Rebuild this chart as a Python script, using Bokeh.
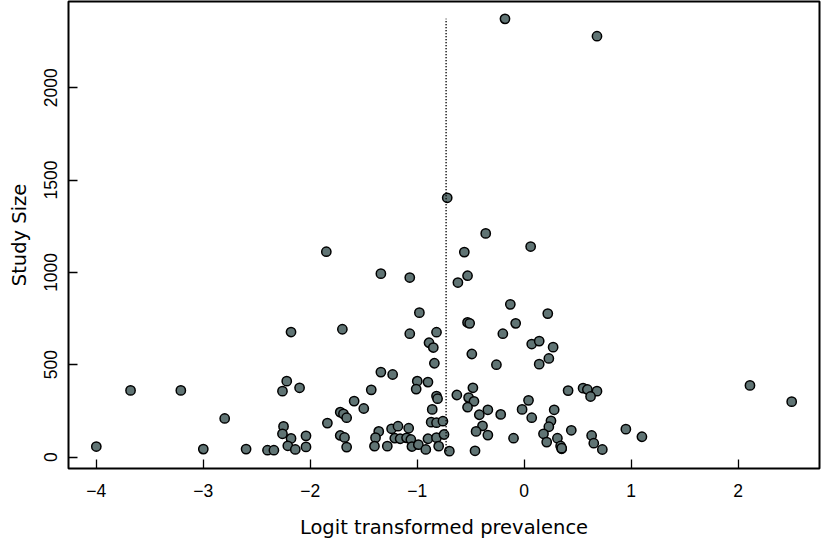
from bokeh.plotting import figure
from bokeh.models import Range1d, FixedTicker, ColumnDataSource
from bokeh.embed import file_html
from bokeh.resources import INLINE

# ---- data ----
logit = [
    -4.00, -3.68, -3.21, -3.00, -2.80, -2.60, -2.40, -2.34, -2.22, -2.26,
    -2.10, -2.18, -2.25, -2.26, -2.18, -2.04, -2.21, -2.14, -2.04, -1.85,
    -1.70, -1.84, -1.72, -1.69, -1.66, -1.59, -1.50, -1.72, -1.68, -1.66,
    -1.43, -1.34, -1.23, -1.34, -1.07, -0.98, -1.07, -0.82, -0.89, -0.85,
    -0.84, -1.00, -1.01, -0.90, -0.82, -0.81, -0.86, -0.87, -0.82, -0.76,
    -1.36, -1.39, -1.40, -1.28, -1.24, -1.18, -1.21, -1.16, -1.08, -1.10,
    -1.06, -1.05, -0.99, -0.92, -0.90, -0.82, -0.75, -0.80, -0.70, -0.72,
    -0.63, -0.53, -0.51, -0.49, -0.26, -0.48, -0.52, -0.47, -0.53, -0.42,
    -0.34, -0.22, -0.39, -0.45, -0.34, -0.46, -0.10, 0.04, -0.02, 0.07,
    0.28, 0.25, 0.23, 0.18, 0.21, 0.31, 0.34, 0.35, 0.35, 0.41,
    0.44, 0.55, 0.59, 0.68, 0.62, 0.63, 0.65, 0.73, 0.95, 1.10,
    2.11, 2.50, -0.18, 0.68, -0.36, -0.56, 0.06, -0.53, -0.62, -0.13,
    0.22, -0.08, -0.20, 0.07, 0.14, 0.27, 0.23, 0.14,
]
study_size = [
    57, 361, 361, 43, 209, 43, 37, 37, 411, 357,
    375, 677, 166, 126, 101, 115, 61, 41, 55, 1112,
    692, 184, 243, 234, 213, 303, 263, 117, 106, 54,
    364, 460, 447, 993, 972, 782, 668, 676, 619, 593,
    508, 411, 368, 406, 330, 316, 258, 189, 186, 194,
    139, 105, 59, 59, 153, 167, 102, 99, 156, 104,
    95, 57, 67, 41, 99, 105, 122, 59, 32, 1404,
    336, 729, 724, 558, 500, 375, 322, 302, 270, 229,
    256, 231, 169, 139, 119, 34, 102, 307, 258, 213,
    256, 196, 164, 126, 81, 102, 60, 45, 48, 360,
    145, 373, 366, 357, 328, 117, 75, 41, 151, 110,
    388, 300, 2373, 2279, 1211, 1110, 1140, 982, 945, 827,
    777, 724, 668, 612, 628, 595, 534, 503,
]
pooled_estimate = -0.73

x_ticks = [-4, -3, -2, -1, 0, 1, 2]
x_tick_labels = ["\u22124", "\u22123", "\u22122", "\u22121", "0", "1", "2"]
y_ticks = [0, 500, 1000, 1500, 2000]
y_tick_labels = ["0", "500", "1000", "1500", "2000"]

x_title = "Logit transformed prevalence"
y_title = "Study Size"

# ---- figure ----
p = figure(width=821, height=542, output_backend="svg", toolbar_location=None,
           x_range=Range1d(-4.26, 2.76), y_range=Range1d(-62, 2467),
           min_border_left=68, min_border_right=2, min_border_top=1,
           min_border_bottom=74)
p.background_fill_color = "white"
p.border_fill_color = "white"
p.outline_line_color = "black"
p.outline_line_width = 2
p.grid.visible = False

for ax in (p.xaxis[0], p.yaxis[0]):
    ax.axis_line_color = None
    ax.major_tick_in = 9
    ax.major_tick_out = 0
    ax.minor_tick_in = 0
    ax.minor_tick_out = 0
    ax.major_tick_line_color = "black"
    ax.major_tick_line_width = 1.3
    ax.major_label_text_font = "Liberation Sans"
    ax.major_label_text_font_size = "17.5px"
    ax.major_label_text_color = "black"
    ax.axis_label_text_font = "DejaVu Sans"
    ax.axis_label_text_font_size = "19.5px"
    ax.axis_label_text_font_style = "normal"
    ax.axis_label_text_color = "black"

p.xaxis.ticker = FixedTicker(ticks=x_ticks)
p.xaxis.major_label_overrides = {t: l for t, l in zip(x_ticks, x_tick_labels)}
p.xaxis.major_label_standoff = 15
p.xaxis.axis_label = x_title
p.xaxis.axis_label_standoff = 16

p.yaxis.ticker = FixedTicker(ticks=y_ticks)
p.yaxis.major_label_overrides = {t: l for t, l in zip(y_ticks, y_tick_labels)}
p.yaxis.major_label_orientation = "vertical"
p.yaxis.major_label_standoff = 11
p.yaxis.axis_label = y_title
p.yaxis.axis_label_standoff = 11

src = ColumnDataSource(dict(x=logit, y=study_size))
p.scatter("x", "y", source=src, size=9.3, fill_color="#607474",
          line_color="black", line_width=1.5)

p.segment(x0=[pooled_estimate], y0=[min(study_size)],
          x1=[pooled_estimate], y1=[max(study_size)],
          line_color="black", line_width=1.8, line_dash="1 2")

open("out.html", "w").write(file_html(p, INLINE))
